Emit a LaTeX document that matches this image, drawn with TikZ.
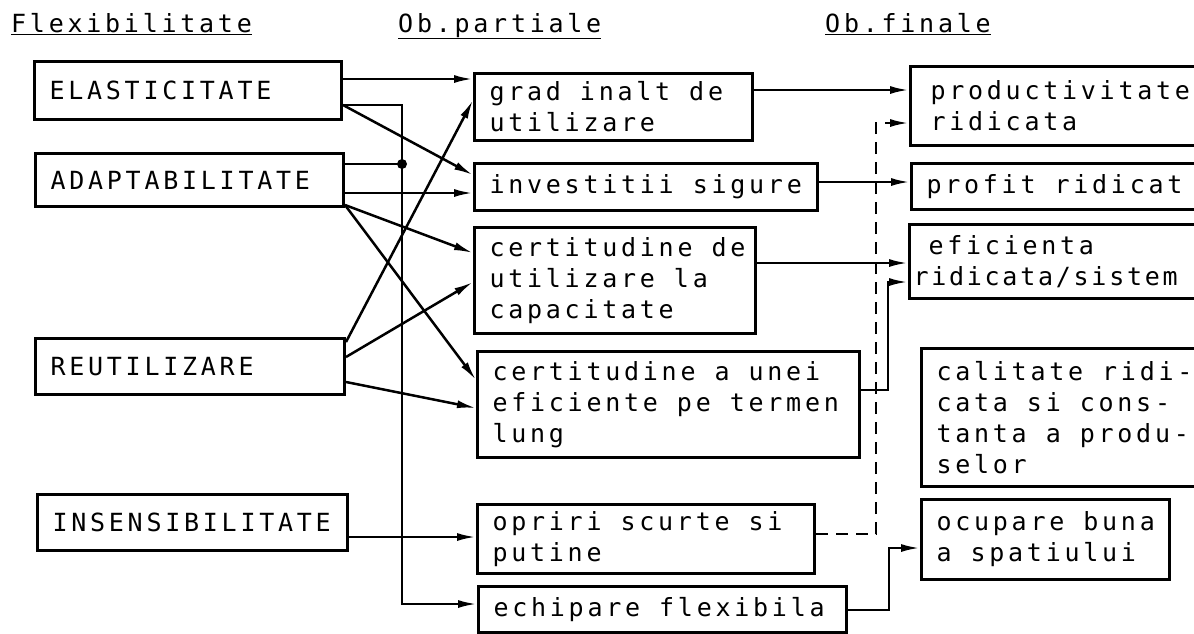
\documentclass[tikz,border=0pt]{standalone}
\usepackage{fontspec}
\newfontfamily\dotmatrix{DejaVu Sans Mono}[LetterSpace=15]
\newcommand{\gap}{\nobreak\hspace{19pt}}
\usetikzlibrary{arrows.meta}

\begin{document}
\begin{tikzpicture}[x=1pt, y=-1pt,
  every node/.style={font=\dotmatrix\fontsize{25}{31}\selectfont},
  box/.style={draw, line width=3pt, anchor=north west, align=left, inner xsep=15pt, inner ysep=0pt},
  heading/.style={anchor=base west, inner sep=0pt},
  link/.style={line width=2.5pt, -{Latex[length=19pt,width=8pt]}}]
  \useasboundingbox (0,0) rectangle (1194,633);

  \node[heading] (hflex) at (11,32) {\underline{Flexibilitate}};
  \node[heading] (hpart) at (398,32) {\underline{Ob.partiale}};
  \node[heading] (hfin) at (825,32) {\underline{Ob.finale}};

  \node[box, text width=277pt, minimum height=58] (elast) at (33,60) {ELASTICITATE};
  \node[box, text width=278pt, minimum height=53] (adapt) at (34,152) {ADAPTABILITATE};
  \node[box, text width=279pt, minimum height=56] (reut) at (34,337) {REUTILIZARE};
  \node[box, text width=280pt, minimum height=56] (insens) at (36,493) {INSENSIBILITATE};

  \node[box, text width=248pt, minimum height=67] (grad) at (473,72) {grad\gap inalt\gap de\\utilizare};
  \node[box, text width=313pt, minimum height=47] (invest) at (473,162) {investitii\gap sigure};
  \node[box, text width=251pt, minimum height=106] (certde) at (473,226) {certitudine\gap de\\utilizare\gap la\\capacitate};
  \node[box, text width=352pt, minimum height=106] (certa) at (476,350) {certitudine\gap a\gap unei\\eficiente\gap pe\gap termen\\lung};
  \node[box, text width=307pt, minimum height=69] (opriri) at (476,503) {opriri\gap scurte\gap si\\putine};
  \node[box, text width=338pt, minimum height=46] (echip) at (477,585) {echipare\gap flexibila};

  \node[box, inner xsep=20pt, text width=260pt, minimum height=79] (prod) at (909,65) {productivitate\\ridicata};
  \node[box, text width=270pt, minimum height=46] (profit) at (910,162) {profit\gap ridicat};
  \node[box, inner xsep=4pt, text width=292pt, minimum height=74] (efic) at (908,223) {\phantom{x}eficienta\\\addfontfeature{LetterSpace=11}ridicata/sistem};
  \node[box, text width=270pt, minimum height=138] (calit) at (920,347) {calitate\gap ridi-\\cata\gap si\gap cons-\\tanta\gap a\gap produ-\\selor};
  \node[box, text width=218pt, minimum height=80] (ocup) at (920,498) {ocupare\gap buna\\a\gap spatiului};

  \coordinate (split) at (402,164);
  \draw[link] (elast.east |- 0,79) -- (grad.west |- 0,79);
  \draw[link] (elast.east |- 0,105) -- (invest.west |- 0,175);
  \draw[link] (elast.east |- 0,105) -| (split) |- (echip.west |- 0,604);
  \draw[line width=2.5pt] (adapt.east |- 0,164) -- (split);
  \fill (split) circle (5);
  \draw[link] (adapt.east |- 0,193) -- (invest.west |- 0,193);
  \draw[link] (adapt.east |- 0,205) -- (certde.west |- 0,253);
  \draw[link] (adapt.east |- 0,205) -- (certa.west |- 0,380);
  \draw[link] (reut.east |- 0,342) -- (grad.west |- 0,100);
  \draw[link] (reut.east |- 0,357) -- (certde.west |- 0,282);
  \draw[link] (reut.east |- 0,382) -- (certa.west |- 0,408);
  \draw[link] (insens.east |- 0,537) -- (opriri.west |- 0,537);
  \draw[link] (grad.east |- 0,90) -- (prod.west |- 0,90);
  \draw[link] (invest.east |- 0,182) -- (profit.west |- 0,182);
  \draw[link] (certde.east |- 0,263) -- (efic.west |- 0,263);
  \draw[link] (certa.east |- 0,390) -- (888,390) |- (efic.west |- 0,282);
  \draw[link, dash pattern=on 12pt off 8pt] (opriri.east |- 0,534) -- (876,534) |- (prod.west |- 0,123);
  \draw[link] (echip.east |- 0,610) -- (889,610) |- (ocup.west |- 0,548);
\end{tikzpicture}
\end{document}
